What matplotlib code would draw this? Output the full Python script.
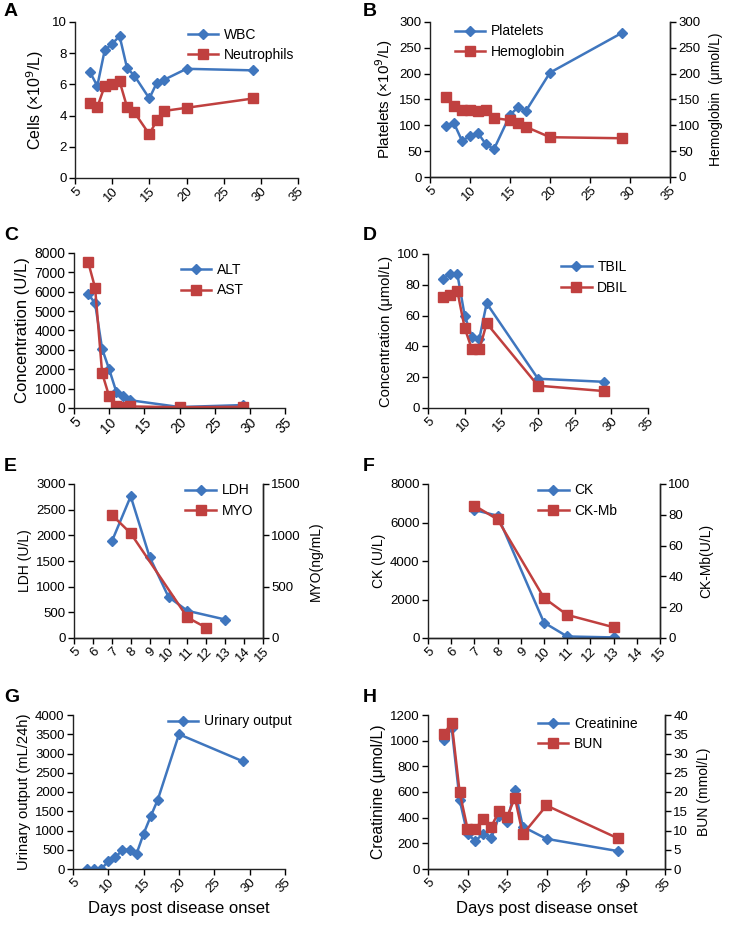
import matplotlib
matplotlib.use("Agg")
import matplotlib.pyplot as plt

plt.rcParams['font.family'] = ['Liberation Sans', 'DejaVu Sans']
plt.rcParams['font.size'] = 9

BLUE = '#3F76BE'
RED = '#C0403F'

# ---- data ----
days_A = [7, 8, 9, 10, 11, 12, 13, 15, 16, 17, 20, 29]
wbc = [6.8, 5.9, 8.2, 8.6, 9.1, 7.05, 6.55, 5.1, 6.1, 6.3, 7.0, 6.9]
neutrophils = [4.8, 4.55, 5.9, 6.05, 6.2, 4.55, 4.2, 2.8, 3.7, 4.3, 4.5, 5.1]

days_B = [7, 8, 9, 10, 11, 12, 13, 15, 16, 17, 20, 29]
platelets = [99, 104, 70, 79, 85, 63, 54, 120, 135, 128, 202, 279]
hemoglobin = [155, 137, 129, 130, 128, 129, 114, 110, 104, 97, 77, 75]

days_C = [7, 8, 9, 10, 11, 12, 13, 20, 29]
alt = [5900, 5400, 3050, 2000, 850, 600, 400, 50, 150]
ast = [7550, 6200, 1800, 600, 120, 50, 80, 40, 60]

days_D = [7, 8, 9, 10, 11, 12, 13, 20, 29]
tbil = [84, 87, 87, 60, 46, 45, 68, 19, 17]
dbil = [72, 73.5, 76, 52, 38, 38, 55, 14.5, 11]

days_LDH = [7, 8, 9, 10, 11, 13]
ldh = [1880, 2760, 1580, 800, 530, 360]
days_MYO = [7, 8, 11, 12]
myo = [1200, 1020, 200, 100]

days_CK = [7, 8, 10, 11, 13]
ck = [6650, 6350, 800, 80, 30]
ckmb = [86, 77, 26, 15, 7]

days_G = [7, 8, 9, 10, 11, 12, 13, 14, 15, 16, 17, 20, 29]
urine = [0, 0, 0, 200, 300, 500, 500, 400, 920, 1370, 1800, 3500, 2800]

days_H = [7, 8, 9, 10, 11, 12, 13, 14, 15, 16, 17, 20, 29]
creatinine = [1005, 1100, 540, 270, 220, 275, 240, 410, 365, 615, 330, 235, 140]
bun = [35, 38, 20, 10.5, 10.5, 13, 11, 15, 13.5, 18.5, 9, 16.5, 8]

W, H = 735, 925
fig = plt.figure(figsize=(W / 100, H / 100), dpi=100)
TICK = 9.5


def mkax(x0, x1, ytop, ybot):
    return fig.add_axes([x0 / W, 1 - ybot / H, (x1 - x0) / W, (ybot - ytop) / H])


def style(ax, right=False, ls=TICK):
    ax.spines['top'].set_visible(False)
    if not right:
        ax.spines['right'].set_visible(False)
    for s in ax.spines.values():
        s.set_linewidth(1.0)
        s.set_color('#222222')
    ax.tick_params(direction='out', length=4, width=1, labelsize=ls, pad=2)


def xsetup(ax, lo, hi, step):
    ax.set_xlim(lo, hi)
    ticks = list(range(lo, hi + 1, step))
    ax.set_xticks(ticks)
    ax.set_xticklabels([str(t) for t in ticks], rotation=45, ha='right',
                       rotation_mode='anchor')
    ax.tick_params(axis='x', pad=1)


def plot_blue(ax, x, y, label):
    return ax.plot(x, y, color=BLUE, lw=1.8, marker='D', ms=5.5, mfc=BLUE,
                   mec=BLUE, label=label)[0]


def plot_red(ax, x, y, label):
    return ax.plot(x, y, color=RED, lw=1.8, marker='s', ms=7.5, mfc=RED,
                   mec=RED, label=label)[0]


def legend(ax, handles, x, y):
    ax.legend(handles=handles, loc='upper left', bbox_to_anchor=(x, y),
              frameon=False, fontsize=10, handlelength=2.2, handletextpad=0.4,
              labelspacing=0.45, borderaxespad=0)


def letter(x, y, s):
    fig.text(x / W, 1 - y / H, s, fontsize=14, fontweight='bold', va='center',
             ha='left')


# ---- A ----
ax = mkax(75, 298, 22, 178)
style(ax)
xsetup(ax, 5, 35, 5)
ax.set_ylim(0, 10)
ax.set_yticks(range(0, 11, 2))
h1 = plot_blue(ax, days_A, wbc, 'WBC')
h2 = plot_red(ax, days_A, neutrophils, 'Neutrophils')
ax.set_ylabel('Cells (\u00d710$^{9}$/L)', fontsize=11.5, labelpad=4)
legend(ax, [h1, h2], 0.48, 1.0)
letter(4, 12, 'A')

# ---- B ----
ax = mkax(430, 670, 22, 177)
style(ax, right=True)
xsetup(ax, 5, 35, 5)
ax.set_ylim(0, 300)
ax.set_yticks(range(0, 301, 50))
h1 = plot_blue(ax, days_B, platelets, 'Platelets')
ax.set_ylabel('Platelets (\u00d710$^{9}$/L)', fontsize=11, labelpad=3)
ax2 = ax.twinx()
style(ax2, right=True)
ax2.spines['left'].set_visible(False)
ax2.set_ylim(0, 300)
ax2.set_yticks(range(0, 301, 50))
h2 = plot_red(ax2, days_B, hemoglobin, 'Hemoglobin')
ax2.set_ylabel('Hemoglobin  (\u03bcmol/L)', fontsize=10, labelpad=6)
legend(ax2, [h1, h2], 0.08, 1.02)
letter(363, 12, 'B')

# ---- C ----
ax = mkax(74, 285, 253, 408)
style(ax, ls=10)
xsetup(ax, 5, 35, 5)
ax.set_ylim(0, 8000)
ax.set_yticks(range(0, 8001, 1000))
h1 = plot_blue(ax, days_C, alt, 'ALT')
h2 = plot_red(ax, days_C, ast, 'AST')
ax.set_ylabel('Concentration (U/L)', fontsize=12, labelpad=3)
legend(ax, [h1, h2], 0.48, 0.97)
letter(4, 235, 'C')

# ---- D ----
ax = mkax(428, 648, 254, 408)
style(ax)
xsetup(ax, 5, 35, 5)
ax.set_ylim(0, 100)
ax.set_yticks(range(0, 101, 20))
h1 = plot_blue(ax, days_D, tbil, 'TBIL')
h2 = plot_red(ax, days_D, dbil, 'DBIL')
ax.set_ylabel('Concentration (\u03bcmol/L)', fontsize=10.6, labelpad=3)
legend(ax, [h1, h2], 0.58, 0.995)
letter(363, 235, 'D')

# ---- E ----
ax = mkax(74, 263, 484, 638)
style(ax, right=True)
xsetup(ax, 5, 15, 1)
ax.set_ylim(0, 3000)
ax.set_yticks(range(0, 3001, 500))
h1 = plot_blue(ax, days_LDH, ldh, 'LDH')
ax.set_ylabel('LDH (U/L)', fontsize=10, labelpad=3)
ax2 = ax.twinx()
style(ax2, right=True)
ax2.spines['left'].set_visible(False)
ax2.set_ylim(0, 1500)
ax2.set_yticks(range(0, 1501, 500))
h2 = plot_red(ax2, days_MYO, myo, 'MYO')
ax2.set_ylabel('MYO(ng/mL)', fontsize=10, labelpad=6)
legend(ax2, [h1, h2], 0.56, 1.04)
letter(4, 467, 'E')

# ---- F ----
ax = mkax(428, 660, 484, 638)
style(ax, right=True)
xsetup(ax, 5, 15, 1)
ax.set_ylim(0, 8000)
ax.set_yticks(range(0, 8001, 2000))
h1 = plot_blue(ax, days_CK, ck, 'CK')
ax.set_ylabel('CK (U/L)', fontsize=10, labelpad=3)
ax2 = ax.twinx()
style(ax2, right=True)
ax2.spines['left'].set_visible(False)
ax2.set_ylim(0, 100)
ax2.set_yticks(range(0, 101, 20))
h2 = plot_red(ax2, days_CK, ckmb, 'CK-Mb')
ax2.set_ylabel('CK-Mb(U/L)', fontsize=10, labelpad=6)
legend(ax2, [h1, h2], 0.45, 1.04)
letter(363, 467, 'F')

# ---- G ----
ax = mkax(73, 285, 715, 869)
style(ax)
xsetup(ax, 5, 35, 5)
ax.set_ylim(0, 4000)
ax.set_yticks(range(0, 4001, 500))
h1 = plot_blue(ax, days_G, urine, 'Urinary output')
ax.set_ylabel('Urinary output (mL/24h)', fontsize=10.6, labelpad=3)
ax.set_xlabel('Days post disease onset', fontsize=12, labelpad=4)
legend(ax, [h1], 0.42, 1.04)
letter(4, 698, 'G')

# ---- H ----
ax = mkax(428, 665, 715, 869)
style(ax, right=True)
xsetup(ax, 5, 35, 5)
ax.set_ylim(0, 1200)
ax.set_yticks(range(0, 1201, 200))
h1 = plot_blue(ax, days_H, creatinine, 'Creatinine')
ax.set_ylabel('Creatinine (\u03bcmol/L)', fontsize=11.3, labelpad=3)
ax.set_xlabel('Days post disease onset', fontsize=12, labelpad=4)
ax2 = ax.twinx()
style(ax2, right=True)
ax2.spines['left'].set_visible(False)
ax2.set_ylim(0, 40)
ax2.set_yticks(range(0, 41, 5))
h2 = plot_red(ax2, days_H, bun, 'BUN')
ax2.set_ylabel('BUN (mmol/L)', fontsize=10, labelpad=6)
legend(ax2, [h1, h2], 0.44, 1.025)
letter(363, 698, 'H')

fig.savefig('out.png', dpi=100, facecolor='white')
